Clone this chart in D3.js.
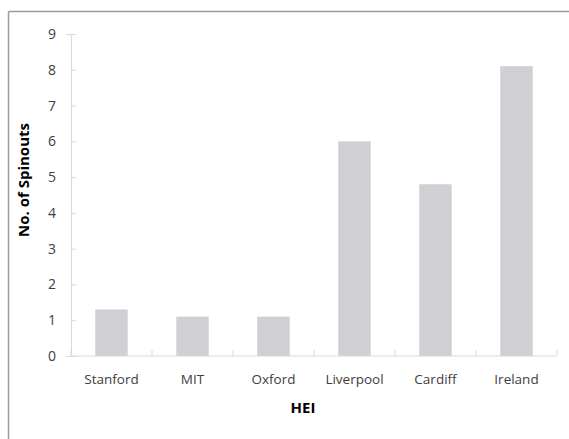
<!DOCTYPE html>
<html><head><meta charset="utf-8">
<script src="https://cdn.jsdelivr.net/npm/d3@7"></script>
<style>body{margin:0;background:#fff}svg{display:block}</style>
</head><body>
<script>
const categories = ["Stanford","MIT","Oxford","Liverpool","Cardiff","Ireland"];
const values = [1.3, 1.1, 1.1, 6.0, 4.8, 8.1];
const yTicks = [0,1,2,3,4,5,6,7,8,9];

const W = 569, H = 439;
const svg = d3.select("body").append("svg").attr("width", W).attr("height", H);
const font = "'Open Sans', 'Noto Sans', sans-serif";

// border (top and left)
svg.append("line").attr("x1", 8.5).attr("x2", W).attr("y1", 11.5).attr("y2", 11.5).attr("stroke", "#9a9a9a").attr("stroke-width", 1.5);
svg.append("line").attr("x1", 8.5).attr("x2", 8.5).attr("y1", 11.5).attr("y2", H).attr("stroke", "#9a9a9a").attr("stroke-width", 1.5);

const x = d3.scaleBand().domain(categories).range([71, 557]).paddingInner(0.6).paddingOuter(0.3);
const y = d3.scaleLinear().domain([0, 9]).range([356, 34]);

// bars
svg.selectAll("rect.bar").data(values).join("rect")
  .attr("class", "bar")
  .attr("x", (d, i) => x(categories[i]))
  .attr("width", x.bandwidth())
  .attr("y", d => y(d))
  .attr("height", d => y(0) - y(d))
  .attr("fill", "#cfcfd4");

// y axis
const yAxis = svg.append("g").attr("transform", "translate(71,0)")
  .call(d3.axisLeft(y).tickValues(yTicks).tickSize(5).tickPadding(10).tickFormat(d3.format("d")));
yAxis.select(".domain").attr("stroke", "#d9d9d9");
yAxis.selectAll(".tick line").attr("stroke", "#d9d9d9").attr("x1", 0).attr("x2", 5);
yAxis.selectAll("text").attr("font-family", font).attr("font-size", 14).attr("fill", "#404040");

// x axis
const xAxis = svg.append("g").attr("transform", "translate(0,356)")
  .call(d3.axisBottom(x).tickSize(0).tickPadding(18));
xAxis.select(".domain").attr("stroke", "#d9d9d9").attr("d", "M71,0H557");
xAxis.selectAll("text").attr("font-family", font).attr("font-size", 13.5).attr("fill", "#404040");
// category boundary ticks
const bounds = d3.range(categories.length + 1).map(i => 71 + i * (557 - 71) / categories.length);
svg.append("g").selectAll("line").data(bounds).join("line")
  .attr("x1", d => d).attr("x2", d => d).attr("y1", 356).attr("y2", 350)
  .attr("stroke", "#d9d9d9");

// axis titles
svg.append("text").attr("x", 303).attr("y", 413).attr("text-anchor", "middle")
  .attr("font-family", font).attr("font-size", 15).attr("font-weight", "bold").attr("fill", "#000")
  .text("HEI");
svg.append("text").attr("transform", "translate(29,180) rotate(-90)").attr("text-anchor", "middle")
  .attr("font-family", font).attr("font-size", 15).attr("font-weight", "bold").attr("fill", "#000")
  .text("No. of Spinouts");
</script>
</body></html>
